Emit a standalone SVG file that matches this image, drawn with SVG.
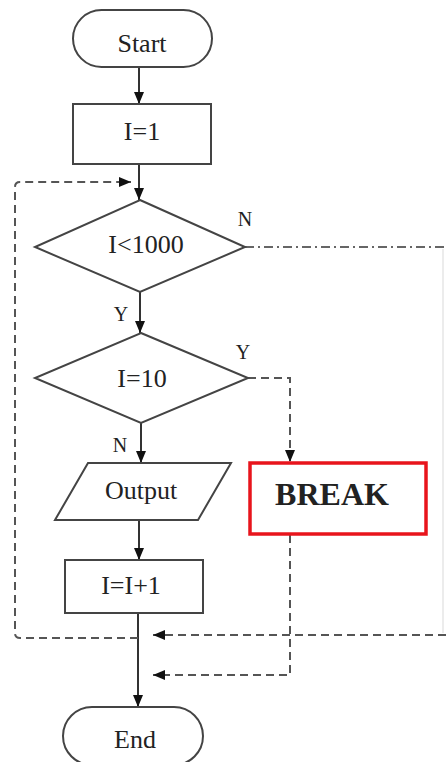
<svg xmlns="http://www.w3.org/2000/svg" width="446" height="762" viewBox="0 0 446 762">
<defs>
<marker id="ah" viewBox="0 0 12 10" refX="12" refY="5" markerWidth="12" markerHeight="10" markerUnits="userSpaceOnUse" orient="auto">
<path d="M0,0 L12,5 L0,10 Z" fill="#111"/>
</marker>
</defs>
<style>
.shape{fill:#fff;stroke:#444;stroke-width:2}
.t{font-size:26px;fill:#222;text-anchor:middle}
.lbl{font-size:20px;fill:#222;text-anchor:middle}
.solid{fill:none;stroke:#333;stroke-width:2}
.dash{fill:none;stroke:#555;stroke-width:2;stroke-dasharray:8 5}
.dashdot{fill:none;stroke:#666;stroke-width:2;stroke-dasharray:9 4 2 4}
</style>
<rect width="446" height="762" fill="#fff"/>
<g font-family="'Liberation Serif', 'Times New Roman', serif">
<g id="connectors">
<line class="solid" x1="139" y1="68" x2="139" y2="104" marker-end="url(#ah)"/>
<line class="solid" x1="139" y1="164" x2="139" y2="200" marker-end="url(#ah)"/>
<line class="solid" x1="140" y1="292" x2="140" y2="333" marker-end="url(#ah)"/>
<line class="solid" x1="141" y1="423" x2="141" y2="463" marker-end="url(#ah)"/>
<line class="solid" x1="139" y1="520" x2="139" y2="560" marker-end="url(#ah)"/>
<line class="solid" x1="138" y1="613" x2="138" y2="707" marker-end="url(#ah)"/>
<path class="dash" d="M138,638 L20,638 Q15,638 15,633 L15,187 Q15,182 20,182 L131,182" marker-end="url(#ah)"/>
<path class="dashdot" d="M245,247 L446,247"/>
<line x1="443" y1="249" x2="443" y2="633" stroke="#ececec" stroke-width="2"/>
<path class="dash" d="M446,635 L153,635" marker-end="url(#ah)"/>
<path class="dash" d="M248,378 L290,378 L290,462" marker-end="url(#ah)"/>
<path class="dash" d="M290,535 L290,675 L153,675" marker-end="url(#ah)"/>
<text class="lbl" x="245" y="226">N</text>
<text class="lbl" x="121" y="321">Y</text>
<text class="lbl" x="243" y="359">Y</text>
<text class="lbl" x="120" y="452">N</text>
</g>
<g id="start">
<rect class="shape" x="73" y="10" width="139" height="57" rx="28.5"/>
<text class="t" x="142" y="52">Start</text>
</g>
<g id="init">
<rect class="shape" x="73" y="104" width="138" height="60"/>
<text class="t" x="142" y="140">I=1</text>
</g>
<g id="cond1">
<polygon class="shape" points="140,200 245,247 140,292 35,247"/>
<text class="t" x="146" y="253">I&lt;1000</text>
</g>
<g id="cond2">
<polygon class="shape" points="141,333 248,378 141,423 35,378"/>
<text class="t" x="142" y="387">I=10</text>
</g>
<g id="output">
<polygon class="shape" points="88,463 231,463 198,520 55,520"/>
<text class="t" x="141" y="499">Output</text>
</g>
<g id="break">
<rect x="250" y="463" width="176" height="71" fill="#fff" stroke="#e8141c" stroke-width="3.5"/>
<text class="t" x="332" y="505" font-weight="bold" style="font-size:32px">BREAK</text>
</g>
<g id="incr">
<rect class="shape" x="65" y="560" width="138" height="53"/>
<text class="t" x="131" y="594">I=I+1</text>
</g>
<g id="end">
<rect class="shape" x="63" y="707" width="140" height="58" rx="29"/>
<text class="t" x="135" y="748">End</text>
</g>
</g>
</svg>
